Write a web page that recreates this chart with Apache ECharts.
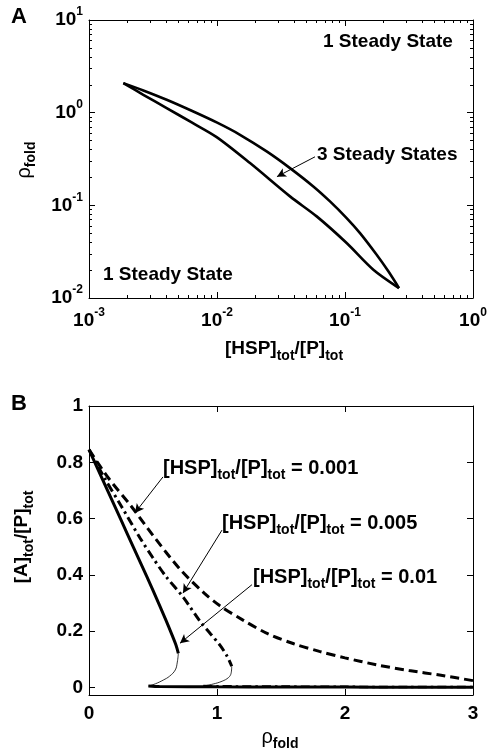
<!DOCTYPE html>
<html><head><meta charset="utf-8">
<script src="https://cdn.jsdelivr.net/npm/echarts@6/dist/echarts.min.js"></script>
<style>html,body{margin:0;padding:0;background:#fff}#c{width:490px;height:754px}</style>
</head><body><div id="c"></div>
<script>
// ---------- Panel A data (bistability region boundary) ----------
const loopUpperX = [0.001854, 0.002657, 0.004044, 0.006342, 0.009940, 0.01513, 0.02443, 0.03717, 0.05656, 0.07634, 0.1030, 0.1310, 0.1768, 0.2181, 0.2642];
const loopUpperY = [2.084, 1.737, 1.378, 1.048, 0.7845, 0.5776, 0.3818, 0.2523, 0.1600, 0.1103, 0.0729, 0.0502, 0.0293, 0.0194, 0.0128];
const loopLowerX = [0.001854, 0.002657, 0.004044, 0.006342, 0.009940, 0.01811, 0.03717, 0.06008, 0.1030, 0.1665, 0.2642];
const loopLowerY = [2.084, 1.560, 1.120, 0.7845, 0.5451, 0.2858, 0.1249, 0.0760, 0.0392, 0.0202, 0.0128];
const arrowA = [[0.0583, 0.334], [0.0294, 0.204]];
const xRangeA = [0.001, 1];
const yRangeA = [0.01, 10];

// ---------- Panel B data ----------
const h001X = [0, 0.15, 0.333, 0.5, 0.711, 0.9, 1.023, 1.2, 1.4, 1.6, 1.8, 2.0, 2.25, 2.5, 2.75, 3.0];
const h001Y = [0.845, 0.745, 0.642, 0.54, 0.42, 0.335, 0.29, 0.24, 0.19, 0.155, 0.128, 0.105, 0.08, 0.06, 0.043, 0.024];
const h005UpX = [0, 0.12, 0.255, 0.4, 0.5, 0.6, 0.737, 0.867, 0.95, 1.023, 1.08, 1.115];
const h005UpY = [0.845, 0.745, 0.642, 0.53, 0.46, 0.395, 0.32, 0.235, 0.19, 0.15, 0.11, 0.075];
const h005MidX = [1.115, 1.11, 1.09, 1.04, 0.97, 0.893];
const h005MidY = [0.075, 0.05, 0.035, 0.022, 0.012, 0.005];
const h005LowX = [0.893, 1.0, 1.5, 2.0, 2.5, 3.0];
const h005LowY = [0.005, 0.004, 0.003, 0.002, 0.0015, 0.001];
const h01UpX = [0, 0.1, 0.2, 0.3, 0.4, 0.5, 0.6, 0.65, 0.68, 0.698];
const h01UpY = [0.845, 0.745, 0.645, 0.545, 0.445, 0.345, 0.24, 0.185, 0.15, 0.121];
const h01MidX = [0.698, 0.69, 0.674, 0.63, 0.58, 0.52, 0.48, 0.464];
const h01MidY = [0.121, 0.09, 0.062, 0.04, 0.026, 0.013, 0.007, 0.005];
const h01LowX = [0.464, 0.55, 1.0, 1.5, 2.0, 2.5, 3.0];
const h01LowY = [0.005, 0.003, 0.002, 0.0015, 0.001, 0.0008, 0.0006];
const arrowB1 = [[0.578, 0.748], [0.359, 0.620]];
const arrowB2 = [[1.039, 0.559], [0.734, 0.335]];
const arrowB3 = [[1.273, 0.365], [0.711, 0.157]];
const yTicksB = [0, 0.2, 0.4, 0.6, 0.8, 1];
const xTicksB = [0, 1, 2, 3];

// ---------- helpers ----------
const zip = (xs, ys) => xs.map((x, i) => [x, ys[i]]);
const FONT = '"Liberation Sans", Arial, Helvetica, sans-serif';
const BLACK = '#000';
const lc = () => ({ color: BLACK, width: 1 });
const supRich = {
  b: { fontFamily: FONT, fontSize: 19, fontWeight: 'bold', color: BLACK, lineHeight: 28 },
  s: { fontFamily: FONT, fontSize: 12, fontWeight: 'bold', color: BLACK, lineHeight: 12, verticalAlign: 'top' }
};
const supFmt = v => '{b|10}{s|' + Math.round(Math.log10(v)) + '}';

function logAxis(grid, pos, range, labels) {
  return {
    type: 'log', logBase: 10, gridIndex: grid, position: pos, min: range[0], max: range[1],
    axisLine: { show: true, onZero: false, lineStyle: lc() },
    axisTick: { show: true, inside: true, length: 6, lineStyle: lc() },
    minorTick: { show: true, splitNumber: 9, length: 3, lineStyle: lc() },
    axisLabel: labels ? { show: true, formatter: supFmt, rich: supRich,
      margin: (pos === 'bottom' ? 9 : 6) } : { show: false },
    splitLine: { show: false }, minorSplitLine: { show: false }
  };
}
const tickLabelStyle = { fontFamily: FONT, fontSize: 19, fontWeight: 'bold', color: BLACK };
function valAxisX(pos, labels) {
  return { type: 'value', gridIndex: 1, position: pos, min: xTicksB[0], max: xTicksB[xTicksB.length - 1], interval: 1,
    axisLine: { show: true, onZero: false, lineStyle: lc() },
    axisTick: { show: true, inside: true, length: 6, lineStyle: lc() },
    axisLabel: labels ? Object.assign({ show: true, margin: 9 }, tickLabelStyle) : { show: false },
    splitLine: { show: false } };
}
function valAxisY(pos, labels) {
  return { type: 'value', gridIndex: 1, position: pos, min: -0.027, max: 1,
    axisLine: { show: true, onZero: false, lineStyle: lc() },
    axisTick: { show: true, inside: true, length: 6, lineStyle: lc(), customValues: yTicksB },
    axisLabel: labels ? Object.assign({ show: true, margin: 6, customValues: yTicksB, formatter: v => String(v) }, tickLabelStyle) : { show: false },
    splitLine: { show: false } };
}

const subRich = (main, sub) => ({
  m: { fontFamily: FONT, fontSize: main, fontWeight: 'bold', color: BLACK, lineHeight: 28 },
  r: { fontFamily: FONT, fontSize: main + 2, fontWeight: 'normal', color: BLACK, lineHeight: 28 },
  t: { fontFamily: FONT, fontSize: sub, fontWeight: 'bold', color: BLACK, lineHeight: sub, verticalAlign: 'bottom' }
});
const hspText = v => '{m|[HSP]}{t|tot}{m|/[P]}{t|tot}{m| = ' + v + '}';

function txt(x, y, text, rich, opts, align) {
  return Object.assign({
    type: 'text', x: x, y: y, silent: true,
    style: { text: text, rich: rich, fill: BLACK, align: align || 'left', verticalAlign: 'middle',
      font: 'bold 19px ' + FONT }
  }, opts || {});
}
function plain(x, y, text, size) {
  return { type: 'text', x: x, y: y, silent: true,
    style: { text: text, fill: BLACK, align: 'left', verticalAlign: 'middle',
      font: 'bold ' + size + 'px ' + FONT } };
}
const arrowLine = pts => [{ coord: pts[0] }, { coord: pts[1] }];
const arrowStyle = data => ({ silent: true, symbol: ['none', 'arrow'], symbolSize: [7, 9], label: { show: false },
  lineStyle: { color: BLACK, width: 1, type: 'solid' }, data: data });
const lineSeries = (xi, xs, ys, style, extra) => Object.assign({
  type: 'line', xAxisIndex: xi, yAxisIndex: xi, data: zip(xs, ys), showSymbol: false, smooth: 0.3,
  lineStyle: Object.assign({ color: BLACK }, style)
}, extra || {});

const option = {
  animation: false,
  backgroundColor: '#fff',
  grid: [
    { left: 89, top: 20, width: 384, height: 278, outerBoundsMode: 'none' },
    { left: 89, top: 406, width: 384, height: 289, outerBoundsMode: 'none' }
  ],
  xAxis: [
    logAxis(0, 'bottom', xRangeA, true),
    logAxis(0, 'top', xRangeA, false),
    valAxisX('bottom', true),
    valAxisX('top', false)
  ],
  yAxis: [
    logAxis(0, 'left', yRangeA, true),
    logAxis(0, 'right', yRangeA, false),
    valAxisY('left', true),
    valAxisY('right', false)
  ],
  series: [
    lineSeries(0, loopUpperX, loopUpperY, { width: 2.6 }, { markLine: arrowStyle([arrowLine(arrowA)]) }),
    lineSeries(0, loopLowerX, loopLowerY, { width: 2.6 }),

    lineSeries(2, h001X, h001Y, { width: 3, type: [9, 5] },
      { markLine: arrowStyle([arrowLine(arrowB1), arrowLine(arrowB2), arrowLine(arrowB3)]) }),
    lineSeries(2, h005UpX, h005UpY, { width: 3, type: [9, 4, 2.5, 4] }),
    lineSeries(2, h005MidX, h005MidY, { width: 0.8 }, { smooth: 0.4 }),
    lineSeries(2, h005LowX, h005LowY, { width: 2.5, type: [9, 4, 2.5, 4] }),
    lineSeries(2, h01UpX, h01UpY, { width: 3 }),
    lineSeries(2, h01MidX, h01MidY, { width: 0.8 }, { smooth: 0.4 }),
    lineSeries(2, h01LowX, h01LowY, { width: 3 })
  ],
  graphic: [
    plain(11, 17, 'A', 22),
    plain(11, 404, 'B', 22),
    plain(323, 42, '1 Steady State', 19),
    plain(103, 275, '1 Steady State', 19),
    plain(317, 155, '3 Steady States', 19),
    txt(284, 349, '{m|[HSP]}{t|tot}{m|/[P]}{t|tot}', subRich(19, 14), {}, 'center'),
    txt(24, 160, '{r|\u03c1}{t|fold}', subRich(18, 14), { rotation: Math.PI / 2 }, 'center'),
    txt(280, 737, '{r|\u03c1}{t|fold}', subRich(18, 14), {}, 'center'),
    txt(22, 537, '{m|[A]}{t|tot}{m|/[P]}{t|tot}', subRich(19, 14), { rotation: Math.PI / 2 }, 'center'),
    txt(163, 468, hspText('0.001'), subRich(20, 14)),
    txt(222, 523, hspText('0.005'), subRich(20, 14)),
    txt(253, 577, hspText('0.01'), subRich(20, 14))
  ]
};

const chart = echarts.init(document.getElementById('c'));
chart.setOption(option);
</script>
</body></html>
